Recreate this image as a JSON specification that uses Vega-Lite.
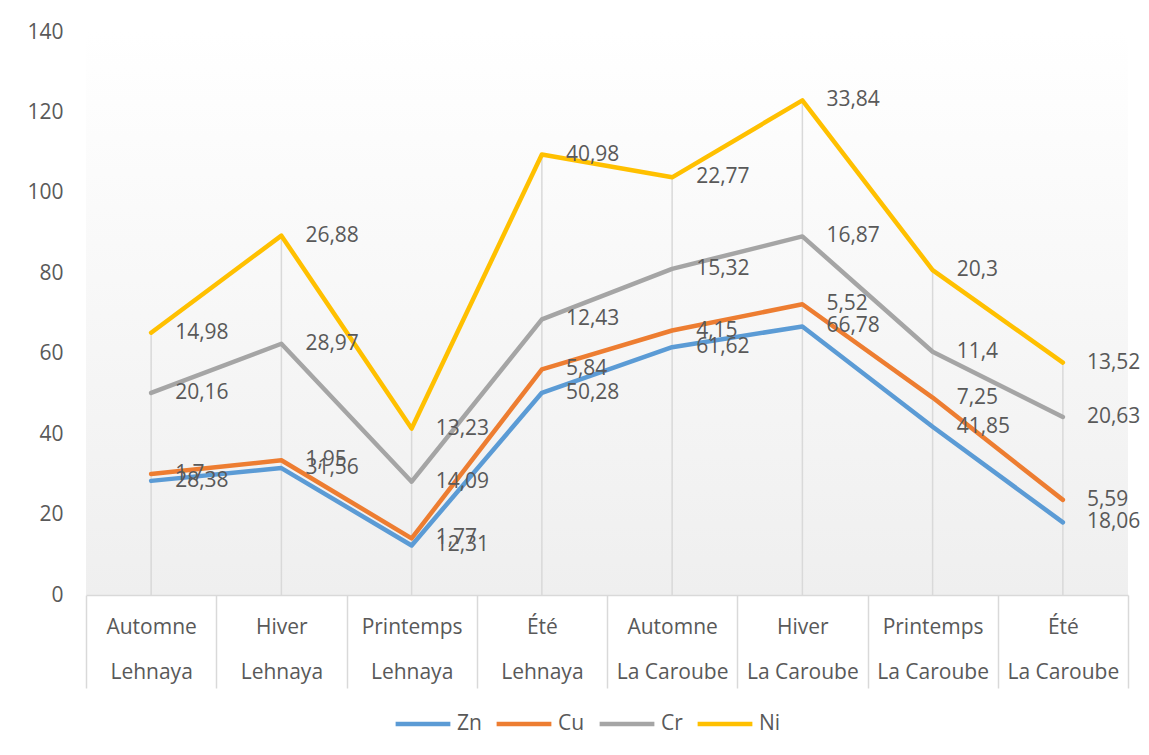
{
  "$schema": "https://vega.github.io/schema/vega-lite/v6.json",
  "autosize": "none",
  "width": 1042,
  "height": 563,
  "padding": {"left": 86, "top": 32, "right": 21, "bottom": 160},
  "background": "white",
  "config": {
    "locale": {"number": {"decimal": ",", "thousands": " ", "grouping": [3], "currency": ["", " €"]}},
    "view": {"stroke": null, "fill": {"gradient": "linear", "x1": 0, "y1": 0, "x2": 0, "y2": 1, "stops": [{"offset": 0, "color": "#ffffff"}, {"offset": 1, "color": "#efefef"}]}},
    "font": "Open Sans"
  },
  "data": {"values": [
    {"idx": 0, "cat": "Automne\nLehnaya", "serie": "Zn", "rank": 1, "v": 28.38},
    {"idx": 0, "cat": "Automne\nLehnaya", "serie": "Cu", "rank": 2, "v": 1.7},
    {"idx": 0, "cat": "Automne\nLehnaya", "serie": "Cr", "rank": 3, "v": 20.16},
    {"idx": 0, "cat": "Automne\nLehnaya", "serie": "Ni", "rank": 4, "v": 14.98},
    {"idx": 1, "cat": "Hiver\nLehnaya", "serie": "Zn", "rank": 1, "v": 31.56},
    {"idx": 1, "cat": "Hiver\nLehnaya", "serie": "Cu", "rank": 2, "v": 1.95},
    {"idx": 1, "cat": "Hiver\nLehnaya", "serie": "Cr", "rank": 3, "v": 28.97},
    {"idx": 1, "cat": "Hiver\nLehnaya", "serie": "Ni", "rank": 4, "v": 26.88},
    {"idx": 2, "cat": "Printemps\nLehnaya", "serie": "Zn", "rank": 1, "v": 12.31},
    {"idx": 2, "cat": "Printemps\nLehnaya", "serie": "Cu", "rank": 2, "v": 1.77},
    {"idx": 2, "cat": "Printemps\nLehnaya", "serie": "Cr", "rank": 3, "v": 14.09},
    {"idx": 2, "cat": "Printemps\nLehnaya", "serie": "Ni", "rank": 4, "v": 13.23},
    {"idx": 3, "cat": "Été\nLehnaya", "serie": "Zn", "rank": 1, "v": 50.28},
    {"idx": 3, "cat": "Été\nLehnaya", "serie": "Cu", "rank": 2, "v": 5.84},
    {"idx": 3, "cat": "Été\nLehnaya", "serie": "Cr", "rank": 3, "v": 12.43},
    {"idx": 3, "cat": "Été\nLehnaya", "serie": "Ni", "rank": 4, "v": 40.98},
    {"idx": 4, "cat": "Automne\nLa Caroube", "serie": "Zn", "rank": 1, "v": 61.62},
    {"idx": 4, "cat": "Automne\nLa Caroube", "serie": "Cu", "rank": 2, "v": 4.15},
    {"idx": 4, "cat": "Automne\nLa Caroube", "serie": "Cr", "rank": 3, "v": 15.32},
    {"idx": 4, "cat": "Automne\nLa Caroube", "serie": "Ni", "rank": 4, "v": 22.77},
    {"idx": 5, "cat": "Hiver\nLa Caroube", "serie": "Zn", "rank": 1, "v": 66.78},
    {"idx": 5, "cat": "Hiver\nLa Caroube", "serie": "Cu", "rank": 2, "v": 5.52},
    {"idx": 5, "cat": "Hiver\nLa Caroube", "serie": "Cr", "rank": 3, "v": 16.87},
    {"idx": 5, "cat": "Hiver\nLa Caroube", "serie": "Ni", "rank": 4, "v": 33.84},
    {"idx": 6, "cat": "Printemps\nLa Caroube", "serie": "Zn", "rank": 1, "v": 41.85},
    {"idx": 6, "cat": "Printemps\nLa Caroube", "serie": "Cu", "rank": 2, "v": 7.25},
    {"idx": 6, "cat": "Printemps\nLa Caroube", "serie": "Cr", "rank": 3, "v": 11.4},
    {"idx": 6, "cat": "Printemps\nLa Caroube", "serie": "Ni", "rank": 4, "v": 20.3},
    {"idx": 7, "cat": "Été\nLa Caroube", "serie": "Zn", "rank": 1, "v": 18.06},
    {"idx": 7, "cat": "Été\nLa Caroube", "serie": "Cu", "rank": 2, "v": 5.59},
    {"idx": 7, "cat": "Été\nLa Caroube", "serie": "Cr", "rank": 3, "v": 20.63},
    {"idx": 7, "cat": "Été\nLa Caroube", "serie": "Ni", "rank": 4, "v": 13.52}
  ]},
  "transform": [
    {"stack": "v", "groupby": ["cat"], "sort": [{"field": "rank", "order": "ascending"}], "as": ["v0", "v1"]}
  ],
  "encoding": {
    "x": {
      "field": "cat", "type": "nominal", "sort": null, "bandPosition": 0.5,
      "scale": {"type": "band", "paddingInner": 0, "paddingOuter": 0},
      "axis": {
        "title": null, "labelAngle": 0, "tickBand": "extent", "tickSize": 93, "tickColor": "#d9d9d9", "tickWidth": 1.5,
        "domainColor": "#d9d9d9", "domainWidth": 1.5,
        "labelExpr": "split(datum.label, '\\n')", "labelFontSize": 21, "labelColor": "#595959",
        "labelLineHeight": 45, "labelBaseline": "middle", "labelPadding": -61, "labelFont": "Open Sans"
      }
    },
    "y": {
      "field": "v1", "type": "quantitative",
      "scale": {"domain": [0, 140], "nice": false},
      "axis": {"title": null, "values": [0, 20, 40, 60, 80, 100, 120, 140], "domain": false, "ticks": false, "grid": false,
        "labelFontSize": 21, "labelColor": "#595959", "labelPadding": 23, "labelFont": "Open Sans"}
    }
  },
  "layer": [
    {
      "transform": [{"filter": "datum.serie === 'Ni'"}],
      "mark": {"type": "rule", "color": "#d9d9d9", "strokeWidth": 1.5},
      "encoding": {"y2": {"datum": 0}}
    },
    {
      "mark": {"type": "line", "strokeWidth": 4.5, "strokeJoin": "round", "strokeCap": "round"},
      "encoding": {
        "color": {"field": "serie", "type": "nominal",
          "scale": {"domain": ["Zn", "Cu", "Cr", "Ni"], "range": ["#5b9bd5", "#ed7d31", "#a5a5a5", "#ffc000"]},
          "legend": {"title": null, "orient": "none", "legendX": 307, "legendY": 662, "padding": 0, "direction": "horizontal", "symbolType": "stroke", "symbolSize": 3000,
            "symbolStrokeWidth": 4.5, "labelFontSize": 21, "labelColor": "#595959", "labelFont": "Open Sans", "columnPadding": 5, "labelOffset": 4, "gridAlign": "none"}},
        "order": {"field": "idx", "type": "quantitative"}
      }
    },
    {
      "mark": {"type": "text", "align": "left", "baseline": "middle", "dx": 24, "fontSize": 21, "color": "#595959", "font": "Open Sans"},
      "encoding": {
        "text": {"field": "v", "type": "quantitative", "format": "~r"}
      }
    }
  ]
}
